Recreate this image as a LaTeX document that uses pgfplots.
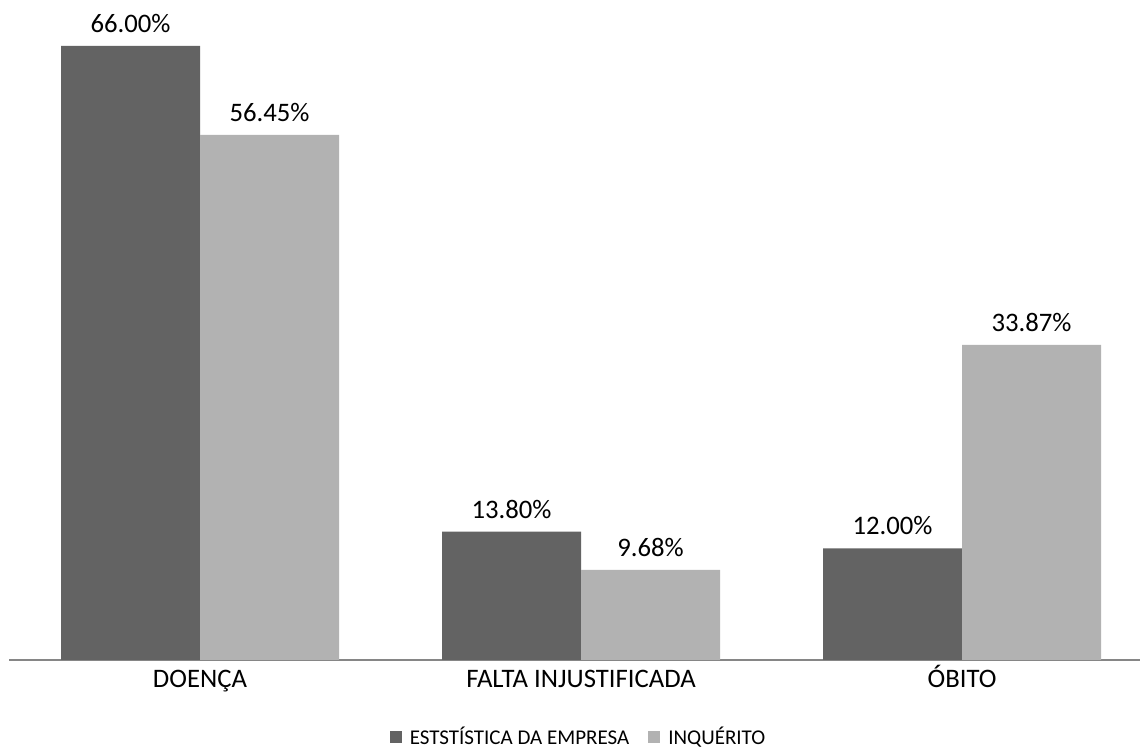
\documentclass[border=0pt]{standalone}
\usepackage{fontspec}
\setmainfont{Carlito}
\usepackage{pgfplots}
\pgfplotsset{compat=1.18}
\definecolor{empresa}{HTML}{636363}
\definecolor{inquerito}{HTML}{B2B2B2}
\definecolor{baseline}{HTML}{868686}

\begin{document}
\begin{tikzpicture}
\path[use as bounding box] (0,0) rectangle (570pt,374.5pt);
\begin{axis}[
  at={(4.75pt,44.5pt)}, anchor=south west,
  scale only axis, width=571.5pt, height=330pt,
  xmin=-0.5, xmax=2.5, ymin=0, ymax=70.94,
  ybar=0pt, bar width=69.5pt,
  axis x line*=bottom, axis y line=none,
  x axis line style={draw=baseline, line width=1pt, -},
  xtick={0,1,2},
  xticklabels={DOENÇA, FALTA INJUSTIFICADA, ÓBITO},
  major tick length=0pt,
  xticklabel style={font=\fontsize{13.35}{16}\selectfont, anchor=base, yshift=-14pt},
  nodes near coords={\pgfmathprintnumber[fixed, fixed zerofill, precision=2, assume math mode=true]{\pgfplotspointmeta}\%},
  nodes near coords align={anchor=base},
  every node near coord/.append style={font=\fontsize{13.35}{16}\selectfont, anchor=base, yshift=6.7pt, text=black},
  legend columns=2,
  legend style={draw=none, fill=none, font=\fontsize{10.5}{12}\selectfont,
    at={(rel axis cs:0.4987,0)}, anchor=center, yshift=-38.5pt,
    /tikz/every odd column/.append style={column sep=2pt},
    /tikz/every even column/.append style={column sep=7.5pt}},
  legend image code/.code={\fill[#1] (0pt,-3pt) rectangle (6pt,3pt);},
]
\addplot[fill=empresa, draw=none] coordinates {(0,66.00) (1,13.80) (2,12.00)};
\addlegendentry{ESTSTÍSTICA DA EMPRESA}
\addplot[fill=inquerito, draw=none] coordinates {(0,56.45) (1,9.68) (2,33.87)};
\addlegendentry{INQUÉRITO}
\end{axis}
\end{tikzpicture}
\end{document}
